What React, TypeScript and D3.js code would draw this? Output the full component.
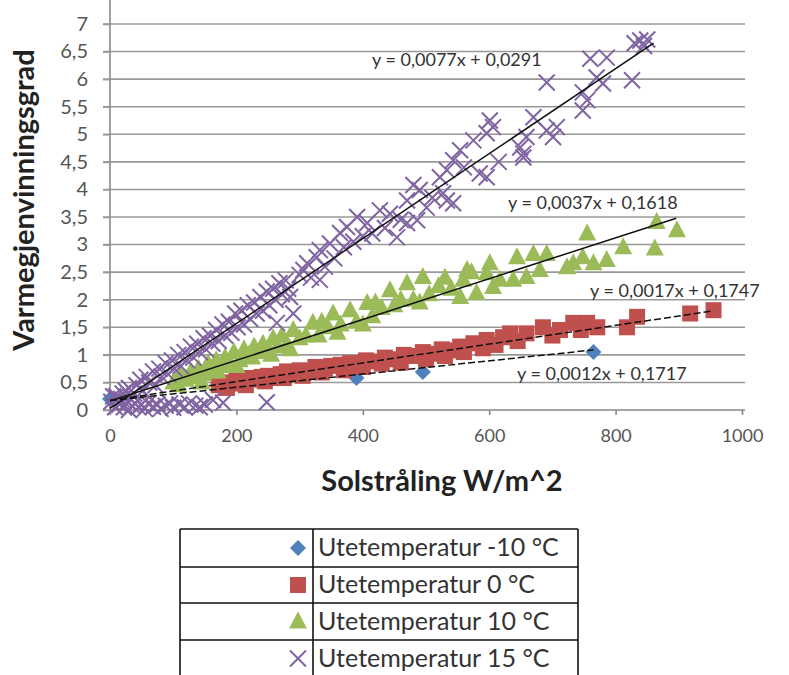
import React, { useEffect, useRef } from 'react';
import * as d3 from 'd3';

type Pt = [number, number];

// solar radiation (W/m^2) vs heat recovery degree
const bluePts: Pt[] = [[0, 0.2], [390, 0.58], [495, 0.69], [765, 1.05]];

const redPts: Pt[] = [
  [172, 0.45], [180, 0.5], [185, 0.4], [190, 0.48], [200, 0.55], [210, 0.5], [215, 0.45], [220, 0.58],
  [230, 0.55], [240, 0.6], [245, 0.52], [250, 0.62], [260, 0.58], [270, 0.65], [275, 0.58], [280, 0.7],
  [290, 0.66], [300, 0.72], [305, 0.62], [315, 0.7], [325, 0.78], [335, 0.68], [340, 0.75], [350, 0.8],
  [365, 0.82], [370, 0.72], [380, 0.85], [390, 0.8], [400, 0.78], [405, 0.9], [420, 0.88], [430, 0.84],
  [435, 0.95], [450, 0.92], [460, 0.86], [465, 1.0], [480, 0.98], [495, 1.05], [500, 0.92], [510, 1.02],
  [525, 1.1], [530, 0.98], [540, 1.08], [554, 1.15], [560, 1.05], [575, 1.21], [590, 1.12], [596, 1.27],
  [610, 1.18], [622, 1.32], [633, 1.39], [645, 1.25], [659, 1.39], [685, 1.5], [700, 1.35], [712, 1.45],
  [733, 1.58], [745, 1.45], [755, 1.58], [771, 1.5], [818, 1.5], [834, 1.69], [918, 1.75], [955, 1.81],
];

const greenPts: Pt[] = [
  [100, 0.5], [108, 0.45], [110, 0.65], [115, 0.6], [120, 0.55], [128, 0.7], [135, 0.6], [140, 0.75],
  [145, 0.5], [148, 0.65], [155, 0.85], [160, 0.7], [168, 0.9], [170, 0.7], [175, 0.8], [182, 0.95],
  [190, 0.85], [196, 1.05], [200, 0.8], [205, 0.9], [212, 1.1], [220, 1.0], [225, 0.95], [228, 1.15],
  [235, 1.05], [242, 1.2], [250, 1.1], [255, 1.0], [258, 1.3], [265, 1.15], [272, 1.35], [280, 1.2],
  [285, 1.1], [290, 1.45], [300, 1.3], [310, 1.35], [321, 1.58], [330, 1.35], [335, 1.6], [345, 1.5],
  [353, 1.75], [360, 1.4], [365, 1.55], [380, 1.81], [390, 1.6], [400, 1.55], [407, 1.94], [415, 1.7],
  [420, 1.95], [430, 1.85], [443, 2.17], [450, 1.9], [460, 2.0], [470, 2.3], [480, 2.0], [490, 1.95],
  [495, 2.41], [505, 2.1], [520, 2.25], [530, 2.4], [540, 2.2], [554, 2.05], [559, 2.36], [565, 2.54],
  [572, 2.5], [580, 2.12], [596, 2.48], [601, 2.66], [606, 2.23], [617, 2.36], [638, 2.36], [644, 2.77],
  [659, 2.41], [670, 2.83], [680, 2.54], [691, 2.83], [723, 2.59], [733, 2.66], [748, 2.77], [755, 3.2],
  [765, 2.66], [786, 2.72], [812, 2.95], [862, 2.93], [865, 3.41], [897, 3.26],
];

const purplePts: Pt[] = [
  [2, 0.15], [5, 0.25], [8, 0.05], [12, 0.2], [15, 0.1], [20, 0.3], [22, 0.05], [28, 0.15], [30, 0.0],
  [35, 0.08], [40, 0.12], [45, 0.05], [50, 0.1], [55, 0.02], [60, 0.12], [68, 0.06], [75, 0.1], [80, 0.02],
  [88, 0.08], [95, 0.12], [100, 0.04], [110, 0.1], [118, 0.05], [125, 0.12], [135, 0.08], [142, 0.05],
  [150, 0.1], [163, 0.18], [179, 0.13], [248, 0.14],
  [10, 0.25], [18, 0.2], [25, 0.35], [30, 0.4], [38, 0.3], [42, 0.45], [48, 0.55], [52, 0.35], [58, 0.6],
  [62, 0.5], [68, 0.7], [72, 0.45], [78, 0.75], [82, 0.6], [88, 0.85], [92, 0.65], [98, 0.9], [102, 0.75],
  [108, 1.0], [112, 0.8], [118, 1.05], [122, 0.9], [128, 1.15], [132, 0.95], [138, 1.2], [142, 1.05],
  [148, 1.3], [152, 1.1], [158, 1.35], [162, 1.2], [168, 1.45], [172, 1.25], [178, 1.55], [182, 1.35],
  [188, 1.6], [192, 1.4], [198, 1.75], [202, 1.5], [208, 1.8], [212, 1.55], [218, 1.9], [222, 1.65],
  [228, 1.95], [232, 1.75], [238, 2.05], [242, 1.8], [248, 2.15], [252, 1.9], [258, 2.2], [262, 2.0],
  [264, 1.58], [268, 2.3], [272, 2.1], [278, 2.35], [282, 2.2], [285, 2.05], [290, 1.75],
  [300, 2.45], [306, 2.54], [312, 2.66], [318, 2.4], [327, 2.77], [332, 2.9], [332, 2.36], [340, 2.6],
  [348, 3.02], [355, 2.75], [364, 3.21], [370, 2.95], [375, 3.32], [385, 3.05], [391, 3.5], [400, 3.15],
  [407, 3.39], [415, 3.2], [427, 3.62], [435, 3.3], [443, 3.56], [454, 3.13], [460, 3.45], [470, 3.8],
  [470, 3.39], [480, 4.08], [486, 3.44], [490, 3.99], [501, 3.67], [510, 3.85], [522, 4.22], [527, 3.93],
  [533, 3.8], [533, 4.35], [543, 3.75], [543, 4.53], [554, 4.71], [560, 4.4], [575, 4.89], [585, 4.29],
  [596, 4.22], [596, 5.02], [601, 5.25], [606, 5.13], [615, 4.5], [649, 4.76], [654, 4.65], [654, 4.58],
  [659, 4.95], [670, 5.31], [691, 5.07], [691, 5.94], [701, 4.95], [707, 5.13], [748, 5.43], [748, 5.76],
  [755, 5.62], [760, 6.37], [770, 6.03], [780, 5.92], [786, 6.39], [826, 5.98], [830, 6.65], [839, 6.7],
  [845, 6.6], [850, 6.72],
];

// trendlines: slope, intercept, x range end, label
const trendSlopes = [0.0012, 0.0017, 0.0037, 0.0077];
const trendIntercepts = [0.1717, 0.1747, 0.1618, 0.0291];
const trendEnds = [765, 955, 896, 860];
const trendLabels = [
  'y = 0,0012x + 0,1717',
  'y = 0,0017x + 0,1747',
  'y = 0,0037x + 0,1618',
  'y = 0,0077x + 0,0291',
];
const trendLabelPos: Pt[] = [[517, 380], [590, 297], [508, 209], [372, 66]];

const seriesNames = ['Utetemperatur -10 °C', 'Utetemperatur 0 °C', 'Utetemperatur 10 °C', 'Utetemperatur 15 °C'];
const seriesColors = ['#4F81BD', '#C0504D', '#9BBB59', '#8064A2'];

const xTicks = [0, 200, 400, 600, 800, 1000];
const yTicks = [0, 0.5, 1, 1.5, 2, 2.5, 3, 3.5, 4, 4.5, 5, 5.5, 6, 6.5, 7];

const FONT = 'Lato, "Open Sans", sans-serif';

function App() {
  const ref = useRef<SVGSVGElement>(null);

  useEffect(() => {
    const svg = d3.select(ref.current);
    svg.selectAll('*').remove();

    const x = d3.scaleLinear().domain([0, 1000]).range([110, 742]);
    const y = d3.scaleLinear().domain([0, 7]).range([410, 24]);
    const fmt = (v: number) => String(v).replace('.', ',');

    // grid
    svg.append('g')
      .selectAll('line')
      .data(yTicks.slice(1))
      .enter()
      .append('line')
      .attr('x1', 103)
      .attr('x2', 745)
      .attr('y1', d => y(d))
      .attr('y2', d => y(d))
      .attr('stroke', '#999')
      .attr('stroke-width', 1.6);

    // axes
    const xAxis = svg.append('g').attr('transform', `translate(0,${y(0)})`)
      .call(d3.axisBottom(x).tickValues(xTicks).tickSize(5).tickPadding(14).tickFormat(d => String(d)));
    const yAxis = svg.append('g').attr('transform', `translate(${x(0)},0)`)
      .call(d3.axisLeft(y).tickValues(yTicks).tickSize(7).tickPadding(15).tickFormat(d => fmt(+d)));
    [xAxis, yAxis].forEach(a => {
      a.select('.domain').attr('stroke', '#888').attr('stroke-width', 1.6);
      a.selectAll('.tick line').attr('stroke', '#888').attr('stroke-width', 1.6);
      a.selectAll('.tick text').attr('fill', '#555').style('font-family', FONT);
    });
    xAxis.selectAll('.tick text').style('font-size', '18px');
    yAxis.selectAll('.tick text').style('font-size', '20px');
    xAxis.select('.domain').attr('d', `M103,0H745`);
    yAxis.select('.domain').attr('d', `M0,0V${y(0)}`);
    yAxis.selectAll('.tick line').attr('stroke', '#999');

    // axis titles
    svg.append('text')
      .attr('x', 442)
      .attr('y', 491)
      .attr('text-anchor', 'middle')
      .style('font-family', FONT)
      .style('font-weight', 'bold')
      .style('font-size', '29px')
      .attr('fill', '#222')
      .text('Solstråling W/m^2');
    svg.append('text')
      .attr('transform', 'translate(34,200) rotate(-90)')
      .attr('text-anchor', 'middle')
      .style('font-family', FONT)
      .style('font-weight', 'bold')
      .style('font-size', '29px')
      .attr('fill', '#222')
      .text('Varmegjenvinningsgrad');

    // marker shapes
    const drawMarker = (g: d3.Selection<SVGGElement, unknown, null, undefined>, i: number, cx: number, cy: number) => {
      const c = seriesColors[i];
      if (i === 0) {
        g.append('path').attr('d', `M${cx},${cy - 8}L${cx + 8},${cy}L${cx},${cy + 8}L${cx - 8},${cy}Z`).attr('fill', c);
      } else if (i === 1) {
        g.append('rect').attr('x', cx - 8).attr('y', cy - 8).attr('width', 16).attr('height', 16).attr('fill', c);
      } else if (i === 2) {
        g.append('path').attr('d', `M${cx},${cy - 10}L${cx + 9},${cy + 7}L${cx - 9},${cy + 7}Z`).attr('fill', c);
      } else {
        g.append('path')
          .attr('d', `M${cx - 8},${cy - 8}L${cx + 8},${cy + 8}M${cx + 8},${cy - 8}L${cx - 8},${cy + 8}`)
          .attr('stroke', c)
          .attr('stroke-width', 2)
          .attr('fill', 'none');
      }
    };

    const allPts = [bluePts, redPts, greenPts, purplePts];
    allPts.forEach((pts, i) => {
      const g = svg.append('g');
      pts.forEach(p => drawMarker(g, i, x(p[0]), y(p[1])));
    });

    // trendlines
    trendSlopes.forEach((k, i) => {
      const line = d3.line<number>().x(d => x(d)).y(d => y(k * d + trendIntercepts[i]));
      svg.append('path')
        .attr('d', line([0, trendEnds[i]]))
        .attr('stroke', '#111')
        .attr('stroke-width', 1.5)
        .attr('stroke-dasharray', i < 2 ? '7,3' : null)
        .attr('fill', 'none');
      svg.append('text')
        .attr('x', trendLabelPos[i][0])
        .attr('y', trendLabelPos[i][1])
        .style('font-family', FONT)
        .style('font-size', '18px')
        .attr('fill', '#333')
        .text(trendLabels[i]);
    });

    // legend table
    const rowTops = [529, 567, 603, 640, 677];
    const lg = svg.append('g');
    rowTops.forEach(t => {
      lg.append('line').attr('x1', 180).attr('x2', 578).attr('y1', t).attr('y2', t).attr('stroke', '#111').attr('stroke-width', 1.6);
    });
    [180, 313, 578].forEach(vx => {
      lg.append('line').attr('x1', vx).attr('x2', vx).attr('y1', 529).attr('y2', 677).attr('stroke', '#111').attr('stroke-width', 1.6);
    });
    seriesNames.forEach((name, i) => {
      const cy = (rowTops[i] + rowTops[i + 1]) / 2;
      drawMarker(lg, i, 298, cy);
      lg.append('text')
        .attr('x', 318)
        .attr('y', cy + 8)
        .style('font-family', FONT)
        .style('font-size', '25px')
        .attr('fill', '#333')
        .text(name);
    });
  }, []);

  return (
    <svg ref={ref} width={789} height={675} style={{ position: 'absolute', left: 0, top: 0, background: '#fff' }} />
  );
}

export default App;
